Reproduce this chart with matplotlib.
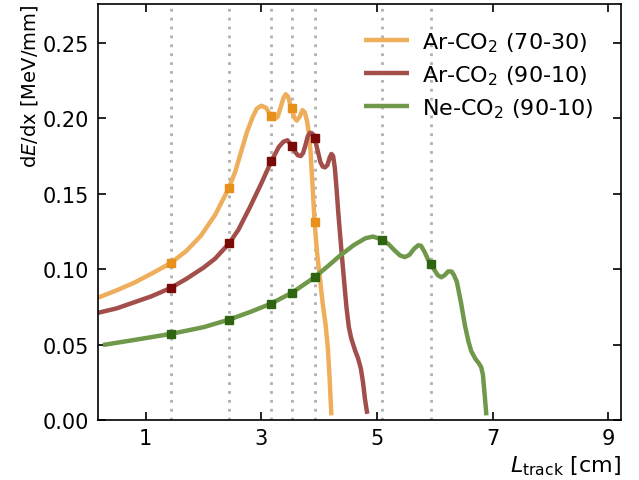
import matplotlib
matplotlib.use("Agg")
import matplotlib.pyplot as plt

# ---- data ----
orange_x = [0.17, 0.5, 0.8, 1.1, 1.43, 1.7, 1.95, 2.2, 2.44, 2.55, 2.65, 2.75, 2.85, 2.92,
            3.0, 3.08, 3.16, 3.22, 3.28, 3.33, 3.38, 3.42, 3.46, 3.5, 3.53, 3.57, 3.61,
            3.66, 3.71, 3.75, 3.79, 3.82, 3.85, 3.88, 3.92, 3.96, 4.01, 4.06, 4.11, 4.15,
            4.18, 4.21]
orange_y = [0.081, 0.086, 0.091, 0.097, 0.104, 0.112, 0.122, 0.136, 0.154, 0.165, 0.178,
            0.191, 0.201, 0.2065, 0.2084, 0.207, 0.202, 0.1995, 0.201, 0.207, 0.2135, 0.216,
            0.2145, 0.209, 0.205, 0.2005, 0.1985, 0.201, 0.2055, 0.204, 0.198, 0.19, 0.178,
            0.158, 0.131, 0.112, 0.0945, 0.077, 0.063, 0.047, 0.027, 0.003]

red_x = [0.17, 0.5, 0.8, 1.1, 1.43, 1.7, 2.0, 2.2, 2.44, 2.6, 2.8, 3.0, 3.17, 3.3, 3.38,
         3.45, 3.52, 3.58, 3.63, 3.68, 3.72, 3.76, 3.8, 3.84, 3.88, 3.92, 3.97, 4.02, 4.06,
         4.1, 4.14, 4.18, 4.21, 4.24, 4.27, 4.3, 4.33, 4.38, 4.43, 4.47, 4.51, 4.55, 4.62,
         4.67, 4.72, 4.76, 4.79, 4.83]
red_y = [0.071, 0.074, 0.078, 0.082, 0.0875, 0.0935, 0.101, 0.107, 0.117, 0.126, 0.141,
         0.157, 0.1715, 0.181, 0.1845, 0.1855, 0.182, 0.178, 0.1755, 0.175, 0.177, 0.182,
         0.188, 0.1905, 0.19, 0.187, 0.179, 0.171, 0.168, 0.1675, 0.169, 0.174, 0.1764,
         0.175, 0.167, 0.153, 0.137, 0.114, 0.092, 0.075, 0.062, 0.0545, 0.046, 0.041,
         0.034, 0.024, 0.014, 0.004]

green_x = [0.26, 0.8, 1.43, 2.0, 2.44, 2.8, 3.16, 3.53, 3.92, 4.15, 4.36, 4.6, 4.8, 4.93,
           5.09, 5.2, 5.3, 5.4, 5.48, 5.56, 5.64, 5.71, 5.76, 5.82, 5.88, 5.93, 5.99, 6.05,
           6.11, 6.17, 6.23, 6.29, 6.33, 6.38, 6.45, 6.52, 6.58, 6.63, 6.7, 6.76, 6.8,
           6.83, 6.86, 6.89]
green_y = [0.0497, 0.053, 0.057, 0.0615, 0.0665, 0.0715, 0.077, 0.0844, 0.0946, 0.102,
           0.109, 0.116, 0.1205, 0.1216, 0.1196, 0.1165, 0.1125, 0.109, 0.108, 0.1095,
           0.1135, 0.1158, 0.1155, 0.1115, 0.1065, 0.1035, 0.0995, 0.096, 0.0946, 0.096,
           0.0985, 0.0984, 0.096, 0.0915, 0.078, 0.0625, 0.052, 0.0455, 0.0405, 0.0375,
           0.035, 0.03, 0.017, 0.003]

vlines_x = [1.43, 2.44, 3.16, 3.53, 3.92, 5.08, 5.93]

orange_mx = [1.43, 2.44, 3.16, 3.53, 3.92]
orange_my = [0.104, 0.154, 0.2015, 0.2067, 0.131]
red_mx = [1.43, 2.44, 3.16, 3.53, 3.92]
red_my = [0.0875, 0.117, 0.1715, 0.182, 0.187]
green_mx = [1.43, 2.44, 3.16, 3.53, 3.92, 5.08, 5.93]
green_my = [0.057, 0.0665, 0.077, 0.0844, 0.0946, 0.1196, 0.1035]

labels = [r"Ar-CO$_2$ (70-30)", r"Ar-CO$_2$ (90-10)", r"Ne-CO$_2$ (90-10)"]
xticks = [1, 3, 5, 7, 9]
yticks = [0.00, 0.05, 0.10, 0.15, 0.20, 0.25]

fig = plt.figure(figsize=(6.39, 4.81), dpi=100)
ax = fig.add_axes([0.153, 0.125, 0.819, 0.865])

for vx in vlines_x:
    ax.axvline(vx, color="#b0b0b0", ls=(0, (1, 2.2)), lw=2.0, zorder=1)

line_cols = ["#eeae5c", "#a24f4c", "#6f984a"]
mark_cols = ["#e8901c", "#7a0a08", "#2f6410"]
series = [(orange_x, orange_y, orange_mx, orange_my),
          (red_x, red_y, red_mx, red_my),
          (green_x, green_y, green_mx, green_my)]
for (x, y, mx, my), lc, mc, lab in zip(series, line_cols, mark_cols, labels):
    ax.plot(x, y, color=lc, lw=3.2, label=lab, zorder=2,
            solid_joinstyle="round", solid_capstyle="butt")
    ax.plot(mx, my, ls="none", marker="s", ms=6, color=mc, zorder=3)

ax.set_xlim(0.17, 9.22)
ax.set_ylim(0, 0.276)
ax.set_xticks(xticks)
ax.set_yticks(yticks)
ax.set_yticklabels([f"{t:.2f}" for t in yticks])
ax.tick_params(direction="in", top=True, right=True, labelsize=15, length=6, width=1.2,
               pad=6)
for s in ax.spines.values():
    s.set_linewidth(1.2)

ax.set_ylabel(r"d$E$/dx [MeV/mm]", fontsize=14, loc="top", labelpad=2)
ax.set_xlabel(r"$L_{\rm track}$ [cm]", fontsize=16, loc="right")

ax.legend(loc="upper right", frameon=False, fontsize=16, handlelength=2.0,
          bbox_to_anchor=(0.985, 0.985), borderaxespad=0.5, labelspacing=0.42,
          handletextpad=0.6)

fig.savefig("out.png", dpi=100)
